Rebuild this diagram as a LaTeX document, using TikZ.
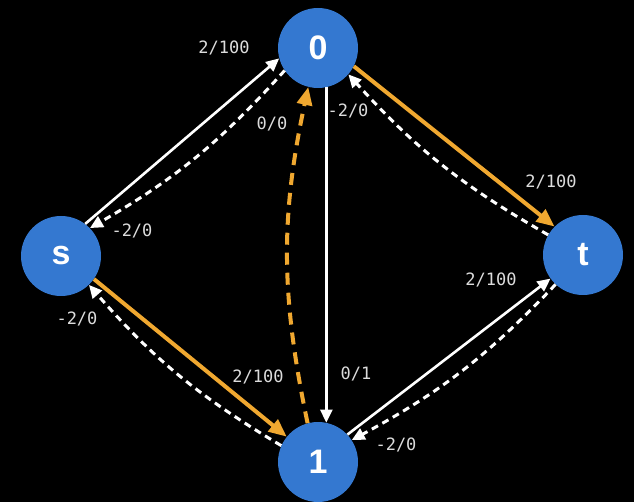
\documentclass[tikz,border=0pt]{standalone}
\usepackage{fontspec}
\setmainfont{Liberation Sans}
\newfontfamily\labelfont{DejaVu Sans Mono}
\usetikzlibrary{arrows.meta}
\definecolor{nodeblue}{RGB}{52,120,208}
\definecolor{pathorange}{RGB}{240,168,48}
\definecolor{labelgray}{RGB}{220,220,220}
\tikzset{
    vertex/.style={circle,fill=nodeblue,minimum size=80pt,inner sep=0pt,text=white,
        font=\fontsize{34}{34}\selectfont\bfseries},
    flow/.style={draw=white,line width=2.6pt,-{Triangle[length=13pt,width=12pt]}},
    back/.style={draw=white,line width=3pt,dash pattern=on 7pt off 5pt,
        -{Triangle[length=13pt,width=12pt]}},
    aug/.style={draw=pathorange,line width=4pt,-{Triangle[length=18pt,width=15pt]}},
    augback/.style={aug,dash pattern=on 12pt off 8pt},
    flowlabel/.style={text=labelgray,font=\labelfont\fontsize{17}{17}\selectfont,inner sep=0pt}
}

\begin{document}
\begin{tikzpicture}[x=1pt,y=-1pt]
    \fill[black] (0,0) rectangle (634,502);
    \useasboundingbox (0,0) rectangle (634,502);

    % vertices
    \node[vertex] (zero) at (318,48) {0};
    \node[vertex] (s) at (61,256) {s};
    \node[vertex] (t) at (583,255) {t};
    \node[vertex] (one) at (318,462) {1};

    % forward and residual edges
    \draw[flow] (s.53) -- (zero.195);
    \draw[back] (zero.214) to[bend left=9] (s.44);
    \draw[aug] (zero.333) -- (t.135);
    \draw[back] (t.150) to[bend left=9] (zero.319);
    \draw[flow] (zero.282) -- (one.78);
    \draw[augback] (one.105) to[bend left=12] (zero.256);
    \draw[aug] (s.325) -- (one.141);
    \draw[back] (one.156) to[bend left=9] (s.314);
    \draw[flow] (one.43) -- (t.216);
    \draw[back] (t.227) to[bend left=9] (one.33);

    % flow / capacity labels
    \node[flowlabel] (ls0) at (224,48) {2/100};
    \node[flowlabel] (l0s) at (132,231) {-2/0};
    \node[flowlabel] (l10) at (272,124) {0/0};
    \node[flowlabel] (lt0) at (348,111) {-2/0};
    \node[flowlabel] (l0t) at (551,182) {2/100};
    \node[flowlabel] (l01) at (356,374) {0/1};
    \node[flowlabel] (ls1) at (258,377) {2/100};
    \node[flowlabel] (l1s) at (77,319) {-2/0};
    \node[flowlabel] (l1t) at (491,280) {2/100};
    \node[flowlabel] (lt1) at (396,445) {-2/0};
\end{tikzpicture}
\end{document}
